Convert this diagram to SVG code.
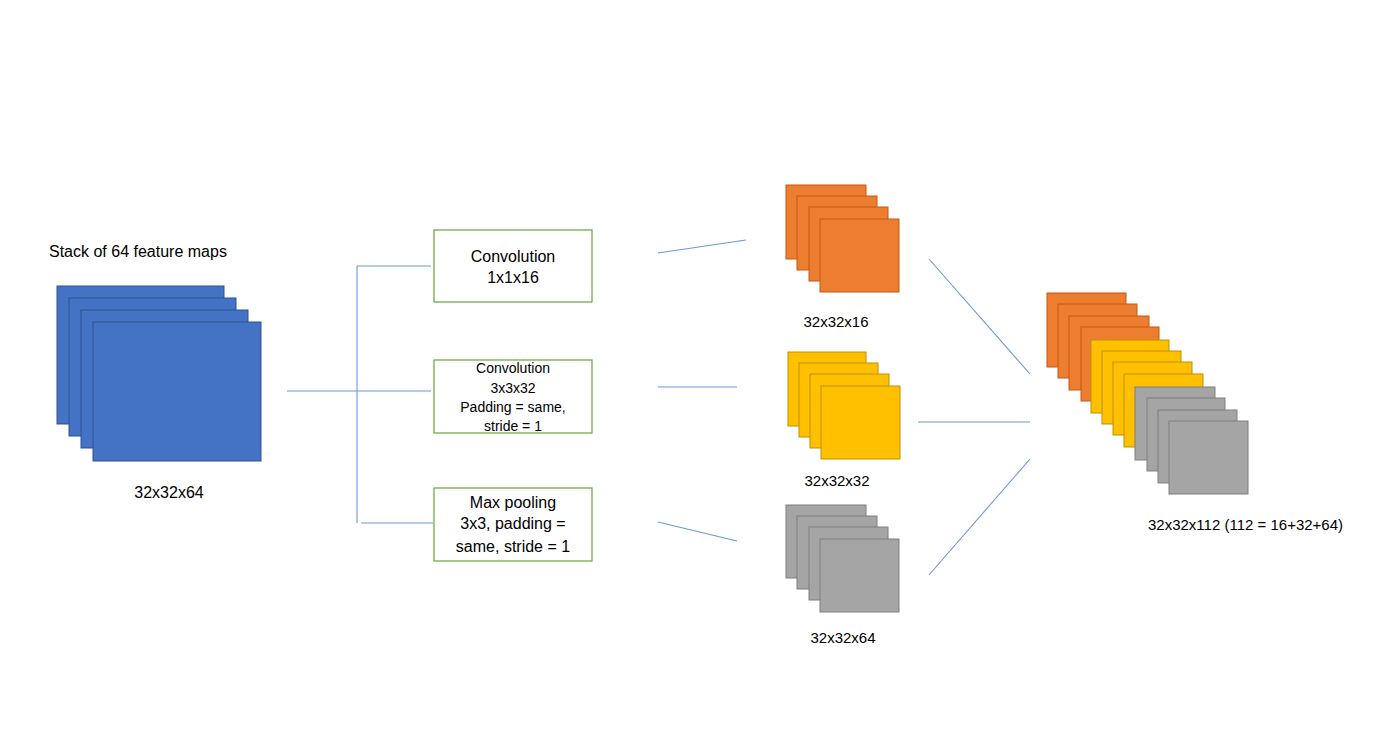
<svg xmlns="http://www.w3.org/2000/svg" width="1400" height="731" viewBox="0 0 1400 731">
<style>
text{font-family:"Liberation Sans",Arial,sans-serif;fill:#000}
.blue{fill:#4472C4;stroke:#2F528F;stroke-width:1}
.org{fill:#ED7D31;stroke:#C55A11;stroke-width:1}
.yel{fill:#FFC000;stroke:#BF9000;stroke-width:1}
.gry{fill:#A5A5A5;stroke:#7F7F7F;stroke-width:1}
.box{fill:#fff;stroke:#70AD47;stroke-width:1.3}
.ln{stroke:#6F96DA;stroke-width:1.1;fill:none}
.c{text-anchor:middle}
</style>
<rect width="1400" height="731" fill="#fff"/>
<g id="input">
<text x="49" y="257" font-size="16">Stack of 64 feature maps</text>
<rect class="blue" x="57" y="286" width="167" height="138"/>
<rect class="blue" x="69" y="298" width="167" height="138"/>
<rect class="blue" x="81" y="310" width="167" height="138"/>
<rect class="blue" x="93" y="322" width="168" height="139"/>
<text class="c" x="169" y="498" font-size="16">32x32x64</text>
</g>
<g id="connectors">
<path class="ln" d="M287 391H431M357 266V523M357 266H431M361 523H433"/>
<path class="ln" d="M658 253L746 240M658 387H737M658 522L737 541"/>
<path class="ln" d="M929 259L1030 374M918 422H1030M929 575L1030 459"/>
</g>
<g id="conv1">
<rect class="box" x="434" y="230" width="158" height="72"/>
<text class="c" x="513" y="262" font-size="16">Convolution</text>
<text class="c" x="513" y="283" font-size="16">1x1x16</text>
</g>
<g id="conv3">
<rect class="box" x="434" y="360" width="158" height="73"/>
<text class="c" x="513" y="373" font-size="14">Convolution</text>
<text class="c" x="513" y="393" font-size="14">3x3x32</text>
<text class="c" x="513" y="412" font-size="14">Padding = same,</text>
<text class="c" x="513" y="431" font-size="14">stride = 1</text>
</g>
<g id="maxpool">
<rect class="box" x="434" y="488" width="158" height="73"/>
<text class="c" x="513" y="508" font-size="16">Max pooling</text>
<text class="c" x="513" y="529" font-size="16">3x3, padding =</text>
<text class="c" x="513" y="552" font-size="16">same, stride = 1</text>
</g>
<g id="out16">
<rect class="org" x="786" y="185" width="80" height="74"/>
<rect class="org" x="797" y="196" width="80" height="74"/>
<rect class="org" x="809" y="207" width="79" height="74"/>
<rect class="org" x="820" y="219" width="79" height="73"/>
<text class="c" x="836" y="327" font-size="15">32x32x16</text>
</g>
<g id="out32">
<rect class="yel" x="788" y="352" width="78" height="74"/>
<rect class="yel" x="799" y="363" width="79" height="74"/>
<rect class="yel" x="810" y="374" width="79" height="74"/>
<rect class="yel" x="821" y="386" width="79" height="73"/>
<text class="c" x="837" y="486" font-size="15">32x32x32</text>
</g>
<g id="out64">
<rect class="gry" x="786" y="505" width="80" height="73"/>
<rect class="gry" x="797" y="516" width="80" height="73"/>
<rect class="gry" x="809" y="527" width="79" height="73"/>
<rect class="gry" x="820" y="539" width="79" height="73"/>
<text class="c" x="843" y="643" font-size="15">32x32x64</text>
</g>
<g id="concat">
<rect class="org" x="1047" y="293" width="79" height="74"/>
<rect class="org" x="1058" y="304" width="79" height="74"/>
<rect class="org" x="1069" y="316" width="80" height="74"/>
<rect class="org" x="1081" y="327" width="78" height="74"/>
<rect class="yel" x="1091" y="340" width="78" height="73"/>
<rect class="yel" x="1102" y="351" width="79" height="73"/>
<rect class="yel" x="1113" y="362" width="79" height="73"/>
<rect class="yel" x="1124" y="374" width="79" height="73"/>
<rect class="gry" x="1135" y="387" width="80" height="73"/>
<rect class="gry" x="1147" y="398" width="78" height="73"/>
<rect class="gry" x="1158" y="410" width="79" height="73"/>
<rect class="gry" x="1169" y="421" width="79" height="73"/>
<text x="1148" y="530" font-size="15">32x32x112 (112 = 16+32+64)</text>
</g>
</svg>
